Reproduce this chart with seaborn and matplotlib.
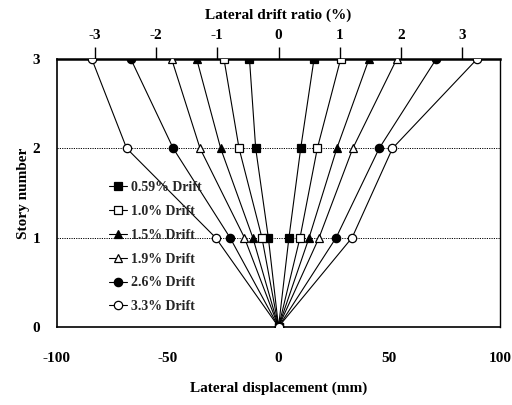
import numpy as np
import pandas as pd
import matplotlib
matplotlib.use("Agg")
import matplotlib.pyplot as plt
import seaborn as sns

# story levels and lateral displacement (mm)
stories = [0, 1, 2, 3]
labels = ["0.59% Drift", "1.0% Drift", "1.5% Drift", "1.9% Drift", "2.6% Drift", "3.3% Drift"]
neg_disp = {
    "0.59% Drift": [0, -4.6, -10.3, -13.1],
    "1.0% Drift": [0, -7.5, -17.8, -24.6],
    "1.5% Drift": [0, -11.6, -26.1, -36.9],
    "1.9% Drift": [0, -15.4, -35.4, -48.2],
    "2.6% Drift": [0, -21.9, -47.5, -66.6],
    "3.3% Drift": [0, -28.4, -68.5, -84.2],
}
pos_disp = {
    "0.59% Drift": [0, 4.7, 10.0, 16.0],
    "1.0% Drift": [0, 9.7, 17.5, 28.0],
    "1.5% Drift": [0, 13.8, 26.3, 40.8],
    "1.9% Drift": [0, 18.3, 33.5, 53.3],
    "2.6% Drift": [0, 26.0, 45.4, 71.1],
    "3.3% Drift": [0, 33.2, 51.4, 89.5],
}
markers = ["s", "s", "^", "^", "o", "o"]
filled = [True, False, True, False, True, False]
drift_ticks = [-3, -2, -1, 0, 1, 2, 3]
mm_per_pct = 27.6

sns.set_theme(style="white")
plt.rcParams["font.family"] = ["Liberation Serif", "DejaVu Serif"]
plt.rcParams["font.weight"] = "bold"
plt.rcParams["axes.unicode_minus"] = False

fig = plt.figure(figsize=(5.12, 4.05), dpi=100)
ax = fig.add_axes([0.111, 0.193, 0.866, 0.661])

for i, name in enumerate(labels):
    # one V-shaped polyline: top-left down to origin and back up to top-right
    xs = neg_disp[name][::-1] + pos_disp[name][1:]
    ys = stories[::-1] + stories[1:]
    df = pd.DataFrame({"disp": xs, "story": ys})
    sns.lineplot(data=df, x="disp", y="story", sort=False, estimator=None,
                 color="black", lw=0.8, marker=markers[i], ms=6,
                 mfc="black" if filled[i] else "white", mec="black", mew=0.9,
                 label=name, ax=ax, zorder=3)

ax.set_xlim(-100, 100)
ax.set_ylim(0, 3)
ax.set_xticks([-100, -50, 0, 50, 100])
ax.set_yticks([0, 1, 2, 3])
for yv in [1, 2]:
    ax.axhline(yv, color="black", lw=0.7, ls=(0, (1.2, 1.2)), zorder=1)

for side in ["left", "bottom", "right"]:
    ax.spines[side].set_color("black")
    ax.spines[side].set_linewidth(1.2)
ax.spines["right"].set_linewidth(1.0)
ax.spines["top"].set_color("black")
ax.spines["top"].set_linewidth(1.8)

ax.tick_params(axis="x", direction="in", length=3, width=0.8, pad=18, labelsize=11, colors="black")
ax.tick_params(axis="y", direction="in", length=3, width=0.8, pad=12, labelsize=11, colors="black")
for t in ax.get_xticklabels() + ax.get_yticklabels():
    t.set_fontweight("bold")

ax.set_xlabel("Lateral displacement (mm)", fontsize=11, fontweight="bold", labelpad=12, color="black")
ax.set_ylabel("Story number", fontsize=11, fontweight="bold", labelpad=2, color="black")

top = ax.secondary_xaxis("top", functions=(lambda x: x / mm_per_pct, lambda d: d * mm_per_pct))
top.set_xticks(drift_ticks)
top.spines["top"].set_visible(False)
top.tick_params(direction="out", length=9, width=1.0, pad=3, labelsize=11, colors="black")
for t in top.get_xticklabels():
    t.set_fontweight("bold")
top.set_xlabel("Lateral drift ratio (%)", fontsize=11, fontweight="bold", labelpad=8, color="black")

leg = ax.legend(loc="upper left", bbox_to_anchor=(0.105, 0.565), frameon=False,
                fontsize=10, handlelength=1.3, handletextpad=0.3, labelspacing=0.78,
                borderaxespad=0)
for t in leg.get_texts():
    t.set_fontweight("bold")

fig.savefig("out.png", dpi=100)
